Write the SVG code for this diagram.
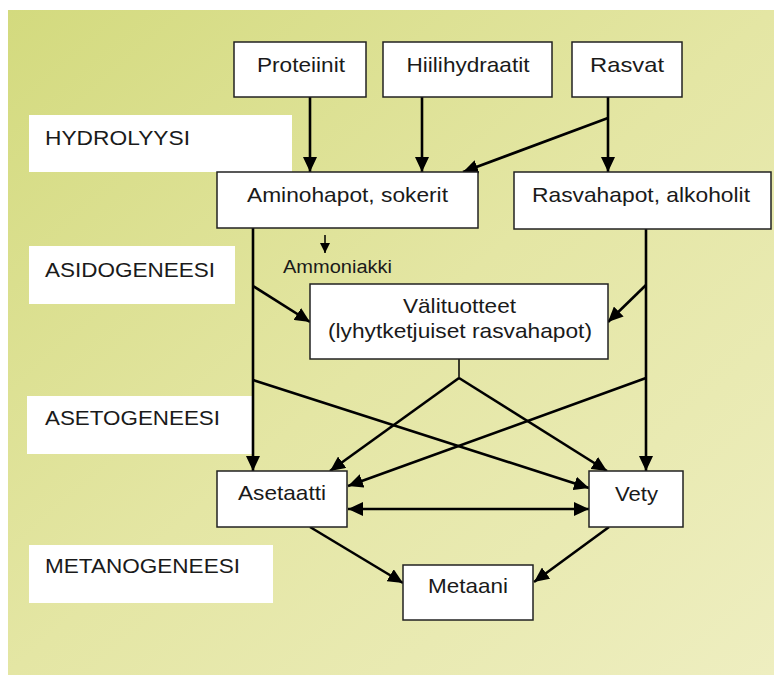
<svg xmlns="http://www.w3.org/2000/svg" width="774" height="675" viewBox="0 0 774 675">
<defs>
<linearGradient id="bg" x1="0" y1="0" x2="1" y2="1">
<stop offset="0" stop-color="#d3da7e"/>
<stop offset="0.5" stop-color="#e4e6a4"/>
<stop offset="1" stop-color="#eeeec0"/>
</linearGradient>
<marker id="ah" markerUnits="userSpaceOnUse" markerWidth="16" markerHeight="14" viewBox="0 0 16 14" refX="15" refY="7" orient="auto-start-reverse">
<path d="M0,0 L15,7 L0,14 Z" fill="#000"/>
</marker>
<marker id="ahs" markerUnits="userSpaceOnUse" markerWidth="10" markerHeight="10" viewBox="0 0 10 10" refX="10" refY="5" orient="auto">
<path d="M0,0 L10,5 L0,10 Z" fill="#000"/>
</marker>
</defs>
<style>
.node{fill:#fff;stroke:#222;stroke-width:1.5}
.lab{fill:#fff}
text{font-family:"Liberation Sans",Arial,sans-serif;fill:#1a1a1a}
.t{font-size:21px;text-anchor:middle}
.l{font-size:20px}
.c{fill:none;stroke:#000;stroke-width:2.6}
.a{marker-end:url(#ah)}
</style>
<rect x="8" y="10" width="766" height="665" fill="url(#bg)"/>

<g id="label-hydrolyysi"><rect class="lab" x="29" y="115" width="263" height="57"/><text class="l" x="45" y="145" textLength="145" lengthAdjust="spacingAndGlyphs">HYDROLYYSI</text></g>
<g id="label-asidogeneesi"><rect class="lab" x="29" y="246" width="206" height="58"/><text class="l" x="45" y="277" textLength="170" lengthAdjust="spacingAndGlyphs">ASIDOGENEESI</text></g>
<g id="label-asetogeneesi"><rect class="lab" x="27" y="396" width="225" height="58"/><text class="l" x="45" y="425" textLength="175" lengthAdjust="spacingAndGlyphs">ASETOGENEESI</text></g>
<g id="label-metanogeneesi"><rect class="lab" x="29" y="545" width="244" height="58"/><text class="l" x="45" y="573" textLength="195" lengthAdjust="spacingAndGlyphs">METANOGENEESI</text></g>

<g id="connectors">
<line class="c a" x1="310" y1="97" x2="310" y2="172"/>
<line class="c a" x1="422" y1="97" x2="422" y2="172"/>
<line class="c a" x1="608" y1="97" x2="608" y2="172"/>
<line class="c a" x1="608" y1="118" x2="463" y2="172"/>
<line class="c a" x1="253" y1="228" x2="253" y2="471"/>
<line class="c a" x1="253" y1="286" x2="310" y2="322"/>
<line class="c a" x1="253" y1="380" x2="589" y2="488"/>
<line class="c a" x1="646" y1="229" x2="646" y2="471"/>
<line class="c a" x1="646" y1="285" x2="608" y2="322"/>
<line class="c a" x1="646" y1="378" x2="348" y2="486"/>
<line class="c" x1="459" y1="359" x2="459" y2="378" style="stroke-width:1.5"/>
<line class="c a" x1="459" y1="378" x2="330" y2="471"/>
<line class="c a" x1="459" y1="378" x2="607" y2="471"/>
<line class="c a" x1="348" y1="509" x2="589" y2="509" style="marker-start:url(#ah)"/>
<line class="c a" x1="310" y1="527" x2="403" y2="583"/>
<line class="c a" x1="609" y1="527" x2="534" y2="582"/>
<line x1="325" y1="235" x2="325" y2="253" stroke="#000" stroke-width="1.5" marker-end="url(#ahs)"/>
</g>

<g id="proteiinit"><rect class="node" x="234" y="42" width="132" height="55"/><text class="t" x="301" y="72" textLength="88" lengthAdjust="spacingAndGlyphs">Proteiinit</text></g>
<g id="hiilihydraatit"><rect class="node" x="383" y="42" width="169" height="55"/><text class="t" x="468" y="72" textLength="123" lengthAdjust="spacingAndGlyphs">Hiilihydraatit</text></g>
<g id="rasvat"><rect class="node" x="572" y="42" width="110" height="55"/><text class="t" x="627" y="72" textLength="74" lengthAdjust="spacingAndGlyphs">Rasvat</text></g>
<g id="aminohapot"><rect class="node" x="217" y="172" width="261" height="56"/><text class="t" x="347.5" y="202" textLength="201" lengthAdjust="spacingAndGlyphs">Aminohapot, sokerit</text></g>
<g id="rasvahapot"><rect class="node" x="514" y="172" width="257" height="57"/><text class="t" x="641" y="202" textLength="218" lengthAdjust="spacingAndGlyphs">Rasvahapot, alkoholit</text></g>
<g id="ammoniakki"><text class="l" x="283" y="273" style="font-size:18px" textLength="109" lengthAdjust="spacingAndGlyphs">Ammoniakki</text></g>
<g id="valituotteet"><rect class="node" x="310" y="284" width="298" height="75"/><text class="t" x="459.5" y="313" textLength="113" lengthAdjust="spacingAndGlyphs">Välituotteet</text><text class="t" x="460" y="338" textLength="264" lengthAdjust="spacingAndGlyphs">(lyhytketjuiset rasvahapot)</text></g>
<g id="asetaatti"><rect class="node" x="217" y="471" width="130" height="56"/><text class="t" x="282" y="500" textLength="88" lengthAdjust="spacingAndGlyphs">Asetaatti</text></g>
<g id="vety"><rect class="node" x="589" y="471" width="94" height="56"/><text class="t" x="636.5" y="501" textLength="43" lengthAdjust="spacingAndGlyphs">Vety</text></g>
<g id="metaani"><rect class="node" x="403" y="565" width="130" height="55"/><text class="t" x="468" y="593" textLength="80" lengthAdjust="spacingAndGlyphs">Metaani</text></g>
</svg>
